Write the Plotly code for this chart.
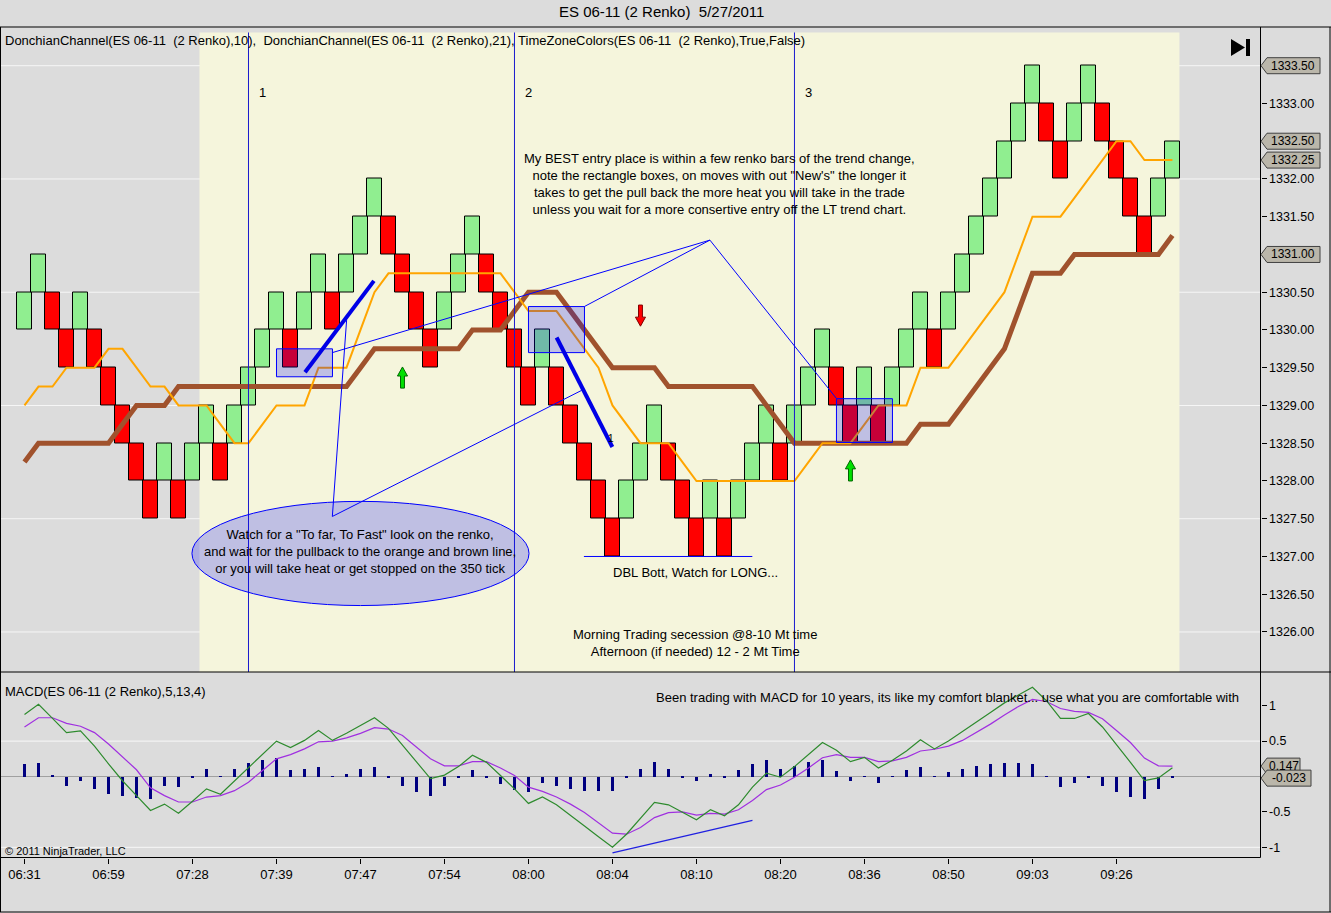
import plotly.graph_objects as go

W, H = 1331, 913

# renko bricks, 2 ticks (0.50) each, read left to right
brick_open = [1330.0, 1330.5, 1330.5, 1330.0, 1330.0, 1330.0, 1329.5, 1329.0, 1328.5, 1328.0,
              1328.0, 1328.0, 1328.0, 1328.5, 1328.5, 1328.5, 1329.0, 1329.5, 1330.0, 1330.0,
              1330.0, 1330.5, 1330.5, 1330.5, 1331.0, 1331.5, 1331.5, 1331.0, 1330.5, 1330.0,
              1330.0, 1330.5, 1331.0, 1331.0, 1330.5, 1330.0, 1329.5, 1329.5, 1329.5, 1329.0,
              1328.5, 1328.0, 1327.5, 1327.5, 1328.0, 1328.5, 1328.5, 1328.0, 1327.5, 1327.5,
              1327.5, 1327.5, 1328.0, 1328.5, 1328.5, 1328.5, 1329.0, 1329.5, 1329.5, 1329.0,
              1329.0, 1329.0, 1329.0, 1329.5, 1330.0, 1330.0, 1330.0, 1330.5, 1331.0, 1331.5,
              1332.0, 1332.5, 1333.0, 1333.0, 1332.5, 1332.5, 1333.0, 1333.0, 1332.5, 1332.0,
              1331.5, 1331.5, 1332.0]
brick_close = [1330.5, 1331.0, 1330.0, 1329.5, 1330.5, 1329.5, 1329.0, 1328.5, 1328.0, 1327.5,
               1328.5, 1327.5, 1328.5, 1329.0, 1328.0, 1329.0, 1329.5, 1330.0, 1330.5, 1329.5,
               1330.5, 1331.0, 1330.0, 1331.0, 1331.5, 1332.0, 1331.0, 1330.5, 1330.0, 1329.5,
               1330.5, 1331.0, 1331.5, 1330.5, 1330.0, 1329.5, 1329.0, 1330.0, 1329.0, 1328.5,
               1328.0, 1327.5, 1327.0, 1328.0, 1328.5, 1329.0, 1328.0, 1327.5, 1327.0, 1328.0,
               1327.0, 1328.0, 1328.5, 1329.0, 1328.0, 1329.0, 1329.5, 1330.0, 1329.0, 1328.5,
               1329.5, 1328.5, 1329.5, 1330.0, 1330.5, 1329.5, 1330.5, 1331.0, 1331.5, 1332.0,
               1332.5, 1333.0, 1333.5, 1332.5, 1332.0, 1333.0, 1333.5, 1332.5, 1332.0, 1331.5,
               1331.0, 1332.0, 1332.5]

# DonchianChannel(10) middle line (orange)
donchian10 = [1329.0, 1329.25, 1329.25, 1329.5, 1329.5, 1329.5, 1329.75, 1329.75, 1329.5, 1329.25,
              1329.25, 1329.0, 1329.0, 1329.0, 1328.75, 1328.5, 1328.5, 1328.75, 1329.0, 1329.0,
              1329.0, 1329.5, 1329.5, 1329.5, 1330.0, 1330.5, 1330.75, 1330.75, 1330.75, 1330.75,
              1330.75, 1330.75, 1330.75, 1330.75, 1330.75, 1330.5, 1330.25, 1330.25, 1330.25, 1330.0,
              1329.75, 1329.5, 1329.0, 1328.75, 1328.5, 1328.5, 1328.5, 1328.25, 1328.0, 1328.0,
              1328.0, 1328.0, 1328.0, 1328.0, 1328.0, 1328.0, 1328.25, 1328.5, 1328.5, 1328.5,
              1328.75, 1329.0, 1329.0, 1329.0, 1329.5, 1329.5, 1329.5, 1329.75, 1330.0, 1330.25,
              1330.5, 1331.0, 1331.5, 1331.5, 1331.5, 1331.75, 1332.0, 1332.25, 1332.5, 1332.5,
              1332.25, 1332.25, 1332.25]

# DonchianChannel(21) middle line (brown)
donchian21 = [1328.25, 1328.5, 1328.5, 1328.5, 1328.5, 1328.5, 1328.5, 1328.75, 1329.0, 1329.0,
              1329.0, 1329.25, 1329.25, 1329.25, 1329.25, 1329.25, 1329.25, 1329.25, 1329.25, 1329.25,
              1329.25, 1329.25, 1329.25, 1329.25, 1329.5, 1329.75, 1329.75, 1329.75, 1329.75, 1329.75,
              1329.75, 1329.75, 1330.0, 1330.0, 1330.0, 1330.25, 1330.5, 1330.5, 1330.5, 1330.25,
              1330.0, 1329.75, 1329.5, 1329.5, 1329.5, 1329.5, 1329.25, 1329.25, 1329.25, 1329.25,
              1329.25, 1329.25, 1329.25, 1329.0, 1328.75, 1328.5, 1328.5, 1328.5, 1328.5, 1328.5,
              1328.5, 1328.5, 1328.5, 1328.5, 1328.75, 1328.75, 1328.75, 1329.0, 1329.25, 1329.5,
              1329.75, 1330.25, 1330.75, 1330.75, 1330.75, 1331.0, 1331.0, 1331.0, 1331.0, 1331.0,
              1331.0, 1331.0, 1331.25]

# MACD(5,13,4)
macd_line = [0.877, 1.02, 0.82, 0.62, 0.645, 0.43, 0.18, -0.06, -0.27, -0.48,
             -0.39, -0.52, -0.35, -0.175, -0.25, -0.06, 0.13, 0.32, 0.50, 0.41,
             0.51, 0.65, 0.51, 0.61, 0.72, 0.83, 0.68, 0.44, 0.20, -0.03,
             0.02, 0.14, 0.30, 0.20, 0.015, -0.175, -0.38, -0.29, -0.40, -0.545,
             -0.70, -0.85, -1.0, -0.815, -0.59, -0.365, -0.40, -0.50, -0.61, -0.47,
             -0.555, -0.40, -0.15, 0.047, -0.01, 0.14, 0.31, 0.48, 0.37, 0.21,
             0.27, 0.12, 0.23, 0.36, 0.52, 0.39, 0.50, 0.63, 0.77, 0.905,
             1.04, 1.15, 1.26, 1.07, 0.82, 0.82, 0.89, 0.70, 0.455, 0.20,
             -0.057, -0.02, 0.124]
macd_avg = [0.70, 0.83, 0.83, 0.75, 0.71, 0.62, 0.46, 0.28, 0.095, -0.16,
            -0.27, -0.36, -0.36, -0.29, -0.27, -0.20, -0.08, 0.085, 0.25, 0.31,
            0.39, 0.49, 0.50, 0.545, 0.61, 0.69, 0.67, 0.58, 0.41, 0.25,
            0.15, 0.15, 0.21, 0.21, 0.12, 0.015, -0.15, -0.21, -0.29, -0.39,
            -0.51, -0.65, -0.80, -0.815, -0.72, -0.58, -0.51, -0.50, -0.545, -0.52,
            -0.53, -0.47, -0.34, -0.185, -0.12, -0.01, 0.12, 0.265, 0.31, 0.27,
            0.27, 0.21, 0.22, 0.27, 0.36, 0.385, 0.43, 0.51, 0.62, 0.74,
            0.87, 0.99, 1.09, 1.06, 0.96, 0.92, 0.905, 0.815, 0.65, 0.48,
            0.26, 0.15, 0.147]
macd_diff = [0.17, 0.19, 0.01, -0.14, -0.07, -0.17, -0.24, -0.28, -0.31, -0.32,
             -0.14, -0.15, -0.01, 0.11, 0.005, 0.11, 0.19, 0.23, 0.26, 0.085,
             0.11, 0.14, 0.005, 0.04, 0.10, 0.13, -0.01, -0.14, -0.22, -0.28,
             -0.14, -0.01, 0.085, -0.01, -0.11, -0.185, -0.22, -0.085, -0.13, -0.17,
             -0.20, -0.21, -0.21, -0.02, 0.11, 0.21, 0.11, -0.01, -0.07, 0.04,
             -0.02, 0.085, 0.17, 0.24, 0.10, 0.15, 0.20, 0.23, 0.076, -0.07,
             0.005, -0.095, 0.005, 0.085, 0.14, 0.005, 0.057, 0.11, 0.15, 0.17,
             0.185, 0.185, 0.17, 0.005, -0.15, -0.095, -0.01, -0.14, -0.22, -0.29,
             -0.32, -0.17, -0.023]

tick_index = [0, 6, 12, 18, 24, 30, 36, 42, 48, 54, 60, 66, 72, 78]
tick_labels = ["06:31", "06:59", "07:28", "07:39", "07:47", "07:54", "08:00",
               "08:04", "08:10", "08:20", "08:36", "08:50", "09:03", "09:26"]
price_ticks = [1326.0, 1326.5, 1327.0, 1327.5, 1328.0, 1328.5, 1329.0, 1329.5,
               1330.0, 1330.5, 1331.5, 1332.0, 1333.0]
price_grid = [1326.0, 1327.5, 1329.0, 1330.5, 1332.0, 1333.5]
price_flags = [1333.50, 1332.50, 1332.25, 1331.00]
macd_ticks = [1, 0.5, -0.5, -1]
macd_flags = [0.147, -0.023]
zone_bars = [16, 35, 55]
zone_names = ["1", "2", "3"]

bx = list(range(len(brick_open)))
lows = [min(o, c) for o, c in zip(brick_open, brick_close)]
heights = [abs(c - o) for o, c in zip(brick_open, brick_close)]
colors = ["#90ee90" if c > o else "#ff0000" for o, c in zip(brick_open, brick_close)]

FONT = "Liberation Sans, Arial, sans-serif"
BLUE = "#1a1acd"
P_LO, P_HI = 1325.47, 1334.006
M_LO, M_HI = -1.144, 1.462


def fx(px):
    return px / W


def fy(py):
    return 1 - py / H


fig = go.Figure()
fig.add_trace(go.Bar(x=bx, y=heights, base=lows, width=1.1, marker=dict(color=colors, line=dict(color="black", width=1)),
                     xaxis="x", yaxis="y", showlegend=False))
fig.add_trace(go.Scatter(x=bx, y=donchian21, mode="lines", line=dict(color="#a0522d", width=5),
                         xaxis="x", yaxis="y", showlegend=False))
fig.add_trace(go.Scatter(x=bx, y=donchian10, mode="lines", line=dict(color="#ffa500", width=2),
                         xaxis="x", yaxis="y", showlegend=False))

fig.add_trace(go.Bar(x=bx, y=macd_diff, width=0.22, marker=dict(color="#000080", line=dict(width=0)),
                     xaxis="x2", yaxis="y2", showlegend=False))
fig.add_trace(go.Scatter(x=bx, y=macd_avg, mode="lines", line=dict(color="#a030e0", width=1.2),
                         xaxis="x2", yaxis="y2", showlegend=False))
fig.add_trace(go.Scatter(x=bx, y=macd_line, mode="lines", line=dict(color="#2e8b2e", width=1.2),
                         xaxis="x2", yaxis="y2", showlegend=False))

shapes = []
# session colour
shapes.append(dict(type="rect", xref="x", yref="y", x0=12.5, x1=82.5, y0=P_LO, y1=1333.94,
                   fillcolor="#f5f5dc", line=dict(width=0), layer="below"))
for g in price_grid:
    shapes.append(dict(type="line", xref="paper", yref="y", x0=0, x1=fx(1260.5), y0=g, y1=g,
                       line=dict(color="rgba(255,255,255,0.75)", width=1), layer="below"))
for g in [0.5, -1]:
    shapes.append(dict(type="line", xref="paper", yref="y2", x0=0, x1=fx(1260.5), y0=g, y1=g,
                       line=dict(color="rgba(255,255,255,0.8)", width=1), layer="below"))
shapes.append(dict(type="line", xref="paper", yref="y2", x0=0, x1=fx(1260.5), y0=0, y1=0,
                   line=dict(color="#a0a0a0", width=1), layer="below"))
for zb in zone_bars:
    shapes.append(dict(type="line", xref="x", yref="y", x0=zb, x1=zb, y0=P_LO, y1=1333.94,
                       line=dict(color=BLUE, width=1)))

# drawing objects
for x0, x1, y0, y1 in [(18, 22, 1329.38, 1329.75), (36, 40, 1329.70, 1330.31), (58, 62, 1328.51, 1329.09)]:
    shapes.append(dict(type="rect", xref="x", yref="y", x0=x0, x1=x1, y0=y0, y1=y1,
                       fillcolor="rgba(0,0,255,0.22)", line=dict(color="#0000ff", width=1)))
shapes.append(dict(type="circle", xref="x", yref="y", x0=11.96, x1=36.04, y0=1326.35, y1=1327.73,
                   fillcolor="rgba(0,0,255,0.22)", line=dict(color="#0000ff", width=1)))
for x0, y0, x1, y1 in [(48.96, 1331.19, 21.99, 1329.70), (48.96, 1331.19, 39.99, 1330.31),
                       (48.96, 1331.19, 58.01, 1329.09), (21.99, 1327.53, 23.01, 1330.13),
                       (21.99, 1327.53, 39.8, 1329.20), (39.96, 1327.0, 51.99, 1327.0)]:
    shapes.append(dict(type="line", xref="x", yref="y", x0=x0, x1=x1, y0=y0, y1=y1,
                       line=dict(color="#0000ff", width=1)))
for x0, y0, x1, y1 in [(20.04, 1329.44, 24.96, 1330.65), (38.01, 1329.90, 41.99, 1328.45)]:
    shapes.append(dict(type="line", xref="x", yref="y", x0=x0, x1=x1, y0=y0, y1=y1,
                       line=dict(color="#0000e6", width=4)))
# MACD divergence line
shapes.append(dict(type="line", xref="x2", yref="y2", x0=42.0, x1=52.0, y0=-1.08, y1=-0.62,
                   line=dict(color="#2020e0", width=1.3)))


def arrow(x, tip, up, fill, edge):
    s = 1 if up else -1
    hw, sw, hh, ln = 0.36, 0.14, 0.12, 0.28
    pts = [(x, tip), (x + hw, tip - s * hh), (x + sw, tip - s * hh), (x + sw, tip - s * ln),
           (x - sw, tip - s * ln), (x - sw, tip - s * hh), (x - hw, tip - s * hh)]
    path = "M " + " L ".join(f"{a},{b}" for a, b in pts) + " Z"
    return dict(type="path", xref="x", yref="y", path=path, fillcolor=fill, line=dict(color=edge, width=1))


shapes.append(arrow(27, 1329.51, True, "#00e000", "#006400"))
shapes.append(arrow(44, 1330.05, False, "#ff0000", "#800000"))
shapes.append(arrow(59, 1328.28, True, "#00e000", "#006400"))

# value flags on the price and macd scales
for v in price_flags:
    h = 8 / 75.5
    shapes.append(dict(type="path", xref="paper", yref="y",
                       path=f"M {fx(1261)},{v} L {fx(1267)},{v + h} L {fx(1320)},{v + h} L {fx(1320)},{v - h} L {fx(1267)},{v - h} Z",
                       fillcolor="#bab6aa", line=dict(color="#404040", width=1)))
for v, right in zip(macd_flags, [1300, 1311]):
    h = 8 / 70.8
    shapes.append(dict(type="path", xref="paper", yref="y2",
                       path=f"M {fx(1261)},{v} L {fx(1267)},{v + h} L {fx(right)},{v + h} L {fx(right)},{v - h} L {fx(1267)},{v - h} Z",
                       fillcolor="#bab6aa", line=dict(color="#404040", width=1)))

# frame
frame = [(0, 27, 1331, 27), (0.5, 27, 0.5, 912), (1330, 27, 1330, 912), (0, 912, 1331, 912),
         (0, 672, 1331, 672), (0, 857.5, 1260.5, 857.5), (1260.5, 27, 1260.5, 857.5)]
for x0, y0, x1, y1 in frame:
    shapes.append(dict(type="line", xref="paper", yref="paper", x0=fx(x0), x1=fx(x1), y0=fy(y0), y1=fy(y1),
                       line=dict(color="black", width=1)))
# go-to-end button
shapes.append(dict(type="path", xref="paper", yref="paper",
                   path=f"M {fx(1231)},{fy(39)} L {fx(1245)},{fy(47.5)} L {fx(1231)},{fy(56)} Z",
                   fillcolor="black", line=dict(width=0)))
shapes.append(dict(type="rect", xref="paper", yref="paper", x0=fx(1246), x1=fx(1250), y0=fy(56), y1=fy(39),
                   fillcolor="black", line=dict(width=0)))

ann = []


def note(text, x, y, xref="x", yref="y", size=13, xanchor="center", align="center", color="black"):
    ann.append(dict(text=text, x=x, y=y, xref=xref, yref=yref, showarrow=False, xanchor=xanchor,
                    yanchor="middle", align=align, font=dict(family=FONT, size=size, color=color)))


note("ES 06-11 (2 Renko)  5/27/2011", fx(661), fy(12), "paper", "paper", size=15)
note("DonchianChannel(ES 06-11  (2 Renko),10),  DonchianChannel(ES 06-11  (2 Renko),21), "
     "TimeZoneColors(ES 06-11  (2 Renko),True,False)", fx(3), fy(40), "paper", "paper", xanchor="left")
for zb, name in zip(zone_bars, zone_names):
    note(name, zb + 0.6, 1333.15, xanchor="left")
note("My BEST entry place is within a few renko bars of the trend change,<br>"
     "note the rectangle boxes, on moves with out \"New's\" the longer it<br>"
     "takes to get the pull back the more heat you will take in the trade<br>"
     "unless you wait for a more consertive entry off the LT trend chart.", 49.68, 1331.93)
note("Watch for a \"To far, To Fast\" look on the renko,<br>"
     "and wait for the pullback to the orange and brown line,<br>"
     "or you will take heat or get stopped on the 350 tick", 23.96, 1327.06)
note("DBL Bott, Watch for LONG...", 47.9, 1326.79)
note("Morning Trading secession @8-10 Mt time<br>Afternoon (if needed) 12 - 2 Mt Time", 47.9, 1325.85)
note("1", 41.9, 1328.56, size=10)
for v in price_flags:
    note(f"{v:.2f}", fx(1293), v, "paper", "y", size=12)
for v, cx in zip(macd_flags, [1284, 1289]):
    note(f"{v:.3f}", fx(cx), v, "paper", "y2", size=12)
note("MACD(ES 06-11 (2 Renko),5,13,4)", fx(3), fy(691), "paper", "paper", xanchor="left")
note("Been trading with MACD for 10 years, its like my comfort blanket... use what you are comfortable with",
     fx(948), fy(697), "paper", "paper")
note("© 2011 NinjaTrader, LLC", fx(3), fy(851), "paper", "paper", size=11, xanchor="left")

fig.update_layout(
    width=W, height=H,
    margin=dict(l=0, r=0, t=0, b=0),
    paper_bgcolor="#dcdcdc", plot_bgcolor="#dcdcdc",
    barmode="overlay", bargap=0,
    font=dict(family=FONT, size=12, color="black"),
    xaxis=dict(domain=[0, fx(1260.5)], range=[-1.75, 88.29], anchor="y", showticklabels=False,
               showgrid=False, zeroline=False, ticks=""),
    xaxis2=dict(domain=[0, fx(1260.5)], range=[-1.75, 88.29], anchor="y2", matches="x",
                tickmode="array", tickvals=tick_index, ticktext=tick_labels, ticks="outside",
                ticklen=5, tickcolor="black", showgrid=False, zeroline=False,
                tickfont=dict(family=FONT, size=13)),
    yaxis=dict(domain=[fy(672), fy(27.5)], range=[P_LO, P_HI], side="right", anchor="x",
               tickmode="array", tickvals=price_ticks, ticktext=[f"{v:.2f}" for v in price_ticks],
               ticks="outside", ticklen=5, tickcolor="black", showgrid=False, zeroline=False,
               tickfont=dict(family=FONT, size=12.5)),
    yaxis2=dict(domain=[fy(857.5), fy(673)], range=[M_LO, M_HI], side="right", anchor="x2",
                tickmode="array", tickvals=macd_ticks, ticktext=["1", "0.5", "-0.5", "-1"],
                ticks="outside", ticklen=5, tickcolor="black", showgrid=False, zeroline=False,
                tickfont=dict(family=FONT, size=12.5)),
    shapes=shapes,
    annotations=ann,
    hovermode=False,
)

fig.write_html("out.html", config={"displayModeBar": False},
               post_script="document.body.style.margin='0';")
